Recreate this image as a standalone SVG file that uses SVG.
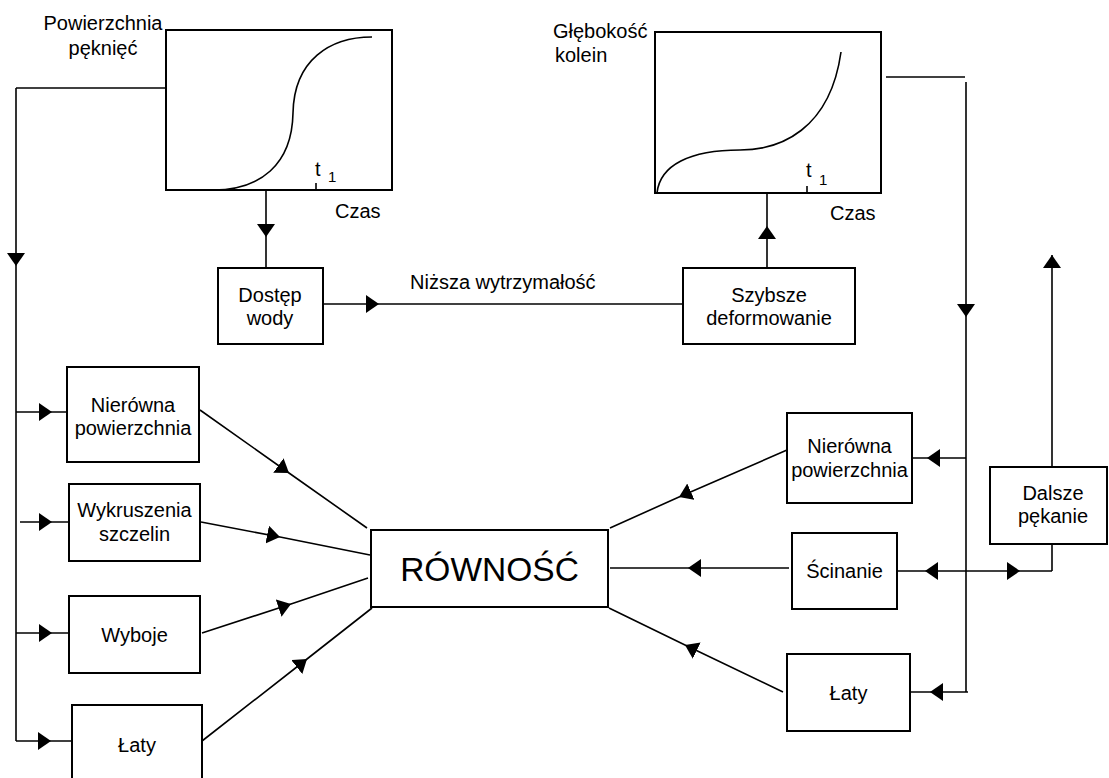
<svg xmlns="http://www.w3.org/2000/svg" width="1109" height="778" viewBox="0 0 1109 778">
  <defs>
    <style>
      .box { fill: #fff; stroke: #000; stroke-width: 2; }
      .ln { fill: none; stroke: #000; stroke-width: 1.6; }
      .curve { fill: none; stroke: #000; stroke-width: 1.6; }
      .t { font-family: "Liberation Sans", Arial, sans-serif; font-size: 20px; fill: #000; }
      .c { text-anchor: middle; }
      .big { font-size: 33.5px; }
      .sub { font-size: 15px; }
      .mid { marker-mid: url(#ah); }
      .end { marker-end: url(#ah); }
    </style>
    <marker id="ah" markerUnits="userSpaceOnUse" markerWidth="14" markerHeight="18" refX="13" refY="9" orient="auto">
      <path d="M0,0 L13,9 L0,18 Z" fill="#000"/>
    </marker>
  </defs>
  <rect width="1109" height="778" fill="#fff"/>

  <!-- crack area over time -->
  <g id="graph-cracks">
    <rect class="box" x="166" y="30" width="226" height="160"/>
    <path class="curve" d="M213,190 C260,190 292,165 293,113 C294,60 330,37 372,37"/>
    <line class="ln" x1="316" y1="183" x2="316" y2="190"/>
    <text class="t" x="315" y="176">t</text>
    <text class="t sub" x="328" y="182">1</text>
    <text class="t" x="335" y="218">Czas</text>
    <text class="t c" x="103" y="30">Powierzchnia</text>
    <text class="t c" x="103" y="55">pęknięć</text>
  </g>

  <!-- rut depth over time -->
  <g id="graph-ruts">
    <rect class="box" x="655" y="32" width="226" height="161"/>
    <path class="curve" d="M657,193 C660,165 690,150 740,150 C780,150 830,130 841,52"/>
    <line class="ln" x1="807" y1="186" x2="807" y2="193"/>
    <text class="t" x="806" y="177">t</text>
    <text class="t sub" x="819" y="185">1</text>
    <text class="t" x="830" y="220">Czas</text>
    <text class="t" x="553" y="38">Głębokość</text>
    <text class="t" x="555" y="62">kolein</text>
  </g>

  <g id="dostep-wody">
    <rect class="box" x="218" y="268" width="105" height="76"/>
    <text class="t c" x="270" y="302">Dostęp</text>
    <text class="t c" x="270" y="325">wody</text>
  </g>

  <g id="szybsze-deformowanie">
    <rect class="box" x="683" y="268" width="172" height="76"/>
    <text class="t c" x="769" y="302">Szybsze</text>
    <text class="t c" x="769" y="325">deformowanie</text>
  </g>

  <g id="rownosc">
    <rect class="box" x="371" y="530" width="237" height="77"/>
    <text class="t c big" x="489.5" y="581">RÓWNOŚĆ</text>
  </g>

  <g id="l-nierowna">
    <rect class="box" x="67" y="367" width="132" height="95"/>
    <text class="t c" x="133" y="412">Nierówna</text>
    <text class="t c" x="133" y="435">powierzchnia</text>
  </g>

  <g id="l-wykruszenia">
    <rect class="box" x="69" y="484" width="131" height="77"/>
    <text class="t c" x="134.5" y="517">Wykruszenia</text>
    <text class="t c" x="134.5" y="541">szczelin</text>
  </g>

  <g id="l-wyboje">
    <rect class="box" x="69" y="596" width="131" height="77"/>
    <text class="t c" x="134.5" y="642">Wyboje</text>
  </g>

  <g id="l-laty">
    <rect class="box" x="72" y="705" width="130" height="90"/>
    <text class="t c" x="137" y="752">Łaty</text>
  </g>

  <g id="r-nierowna">
    <rect class="box" x="787" y="413" width="125" height="90"/>
    <text class="t c" x="849.5" y="453">Nierówna</text>
    <text class="t c" x="849.5" y="477">powierzchnia</text>
  </g>

  <g id="r-scinanie">
    <rect class="box" x="792" y="533" width="105" height="76"/>
    <text class="t c" x="844.5" y="578">Ścinanie</text>
  </g>

  <g id="r-laty">
    <rect class="box" x="787" y="654" width="123" height="77"/>
    <text class="t c" x="848.5" y="700">Łaty</text>
  </g>

  <g id="dalsze-pekanie">
    <rect class="box" x="990" y="467" width="117" height="77"/>
    <text class="t c" x="1053" y="500">Dalsze</text>
    <text class="t c" x="1053" y="523">pękanie</text>
  </g>

  <g id="connectors">
    <!-- top flow -->
    <path class="ln mid" d="M266,191 L266,237 L266,268"/>
    <path class="ln mid" d="M323,304 L379,304 L683,304"/>
    <text class="t" x="410" y="289">Niższa wytrzymałość</text>
    <path class="ln mid" d="M767,268 L767,226 L767,193"/>

    <!-- left trunk and branches -->
    <path class="ln" d="M166,88 L16,88"/>
    <path class="ln mid" d="M16,88 L16,266 L16,741"/>
    <path class="ln mid" d="M16,412 L52,412 L67,412"/>
    <path class="ln mid" d="M20,522 L52,522 L69,522"/>
    <path class="ln mid" d="M16,633 L52,633 L69,633"/>
    <path class="ln mid" d="M16,741 L51,741 L72,741"/>

    <!-- left boxes into RÓWNOŚĆ -->
    <path class="ln mid" d="M200,410 L289,473 L367,528"/>
    <path class="ln mid" d="M201,522 L280,537 L370,555"/>
    <path class="ln mid" d="M202,633 L291,604 L368,578"/>
    <path class="ln mid" d="M202,741 L307,659 L372,608"/>

    <!-- right trunk and branches -->
    <path class="ln" d="M886,77 L965,77"/>
    <path class="ln mid" d="M966,82 L966,317 L966,692"/>
    <path class="ln mid" d="M966,458 L927,458 L912,458"/>
    <path class="ln mid" d="M966,571 L925,571 L897,571"/>
    <path class="ln mid" d="M966,571 L1020,571 L1052,571"/>
    <path class="ln" d="M1052,571 L1052,544"/>
    <path class="ln mid" d="M968,692 L930,692 L910,692"/>
    <path class="ln end" d="M1052,467 L1052,255"/>

    <!-- right boxes into RÓWNOŚĆ -->
    <path class="ln mid" d="M787,450 L679,497 L610,528"/>
    <path class="ln mid" d="M789,568 L688,568 L610,568"/>
    <path class="ln mid" d="M783,692 L685,645 L609,608"/>
  </g>
</svg>
